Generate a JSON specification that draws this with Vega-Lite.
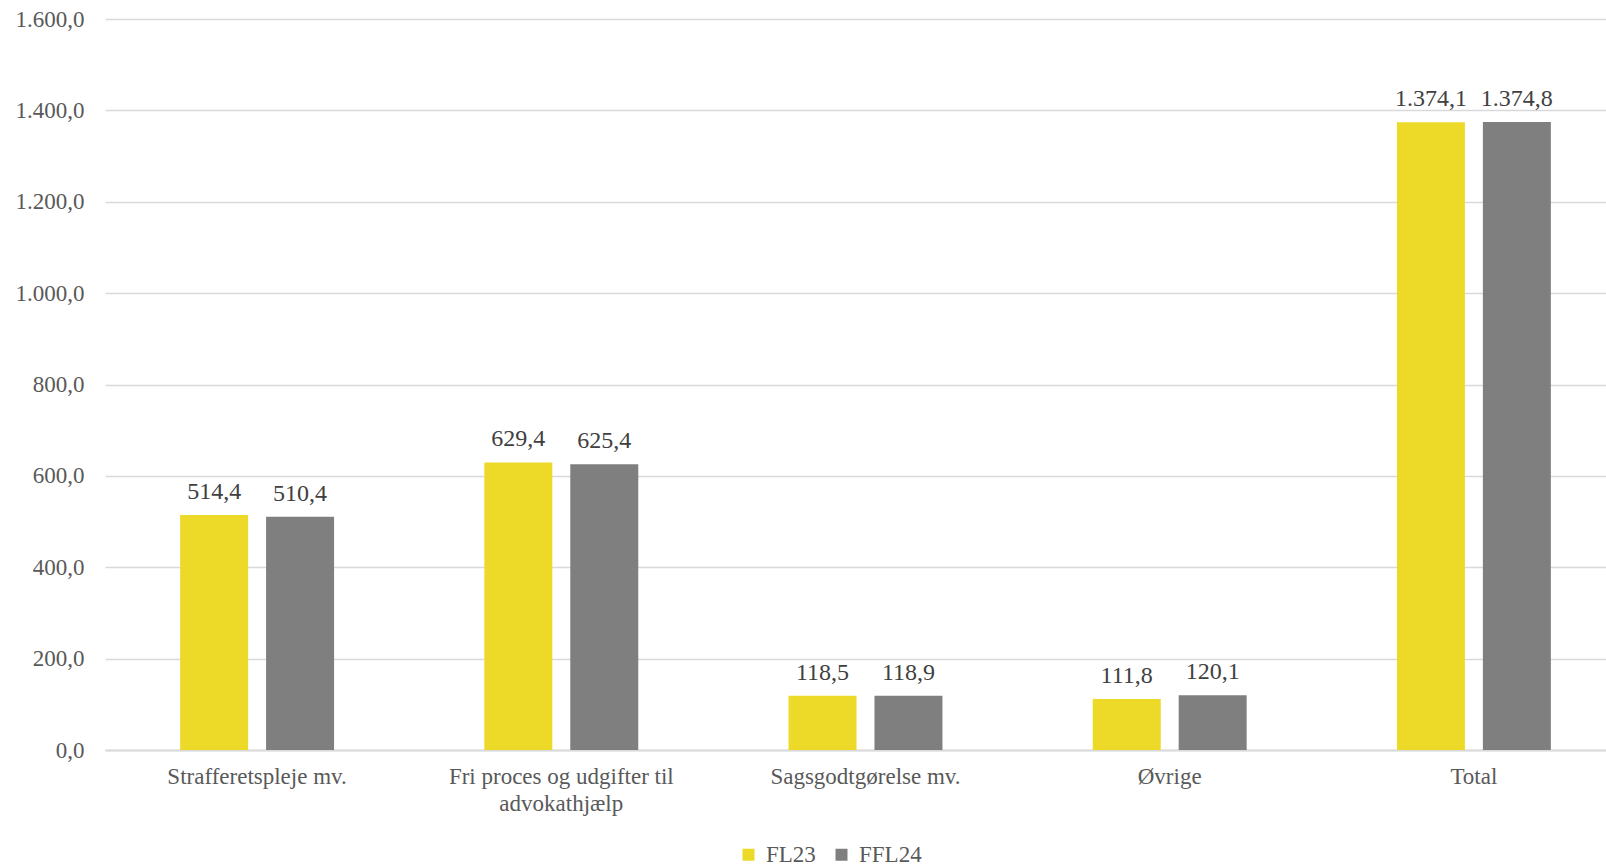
{
  "$schema": "https://vega.github.io/schema/vega-lite/v6.json",
  "width": 1521,
  "height": 731,
  "autosize": {"type": "none"},
  "padding": {"left": 105, "top": 19, "right": 0, "bottom": 117},
  "background": "white",
  "config": {
    "locale": {"number": {"decimal": ",", "thousands": ".", "grouping": [3], "currency": ["", " kr."]}},
    "font": "Liberation Serif",
    "view": {"stroke": null}
  },
  "data": {
    "values": [
      {"kategori": "Strafferetspleje mv.", "serie": "FL23", "værdi": 514.4},
      {"kategori": "Strafferetspleje mv.", "serie": "FFL24", "værdi": 510.4},
      {"kategori": "Fri proces og udgifter til advokathjælp", "serie": "FL23", "værdi": 629.4},
      {"kategori": "Fri proces og udgifter til advokathjælp", "serie": "FFL24", "værdi": 625.4},
      {"kategori": "Sagsgodtgørelse mv.", "serie": "FL23", "værdi": 118.5},
      {"kategori": "Sagsgodtgørelse mv.", "serie": "FFL24", "værdi": 118.9},
      {"kategori": "Øvrige", "serie": "FL23", "værdi": 111.8},
      {"kategori": "Øvrige", "serie": "FFL24", "værdi": 120.1},
      {"kategori": "Total", "serie": "FL23", "værdi": 1374.1},
      {"kategori": "Total", "serie": "FFL24", "værdi": 1374.8}
    ]
  },
  "encoding": {
    "x": {
      "field": "kategori",
      "type": "nominal",
      "sort": null,
      "scale": {"paddingInner": 0.494, "paddingOuter": 0.247},
      "axis": {
        "title": null,
        "labelAngle": 0,
        "labelFont": "Liberation Serif",
        "labelFontSize": 23,
        "labelColor": "#595959",
        "labelPadding": 15,
        "labelLimit": 400,
        "labelLineHeight": 27,
        "labelBaseline": "top",
        "ticks": false,
        "domain": true,
        "domainColor": "#D9D9D9",
        "domainWidth": 2,
        "labelExpr": "datum.label == 'Fri proces og udgifter til advokathjælp' ? ['Fri proces og udgifter til', 'advokathjælp'] : datum.label"
      }
    },
    "xOffset": {
      "field": "serie",
      "type": "nominal",
      "sort": ["FL23", "FFL24"],
      "scale": {"paddingInner": 0.209, "paddingOuter": 0}
    },
    "y": {
      "field": "værdi",
      "type": "quantitative",
      "scale": {"domain": [0, 1600], "nice": false},
      "axis": {
        "title": null,
        "values": [0, 200, 400, 600, 800, 1000, 1200, 1400, 1600],
        "format": ",.1f",
        "labelFont": "Liberation Serif",
        "labelFontSize": 23,
        "labelColor": "#595959",
        "labelPadding": 21,
        "ticks": false,
        "domain": false,
        "grid": true,
        "gridColor": "#D9D9D9",
        "gridWidth": 1.5
      }
    }
  },
  "layer": [
    {
      "mark": {"type": "bar"},
      "encoding": {
        "color": {
          "field": "serie",
          "type": "nominal",
          "sort": ["FL23", "FFL24"],
          "scale": {"domain": ["FL23", "FFL24"], "range": ["#EDD928", "#7F7F7F"]},
          "legend": {
            "title": null,
            "orient": "none",
            "direction": "horizontal",
            "legendX": 632,
            "legendY": 824,
            "symbolType": "square",
            "symbolSize": 144,
            "symbolStrokeWidth": 0,
            "labelFont": "Liberation Serif",
            "labelFontSize": 23,
            "labelColor": "#595959",
            "labelOffset": 6,
            "columnPadding": 14
          }
        }
      }
    },
    {
      "mark": {"type": "text", "baseline": "alphabetic", "dy": -16, "font": "Liberation Serif", "fontSize": 24, "color": "#404040"},
      "encoding": {
        "text": {"field": "værdi", "type": "quantitative", "format": ",.1f"}
      }
    }
  ]
}
